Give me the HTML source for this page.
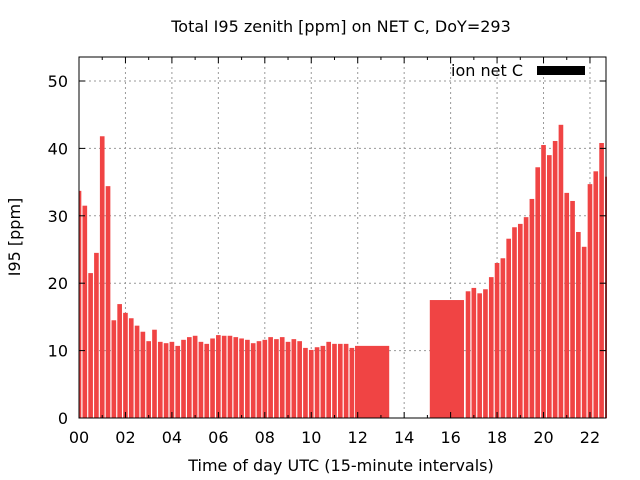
<!DOCTYPE html>
<html><head><meta charset="utf-8"><style>
html,body{margin:0;padding:0;background:#fff}
svg{display:block;font-family:"DejaVu Sans","Liberation Sans",sans-serif}
</style></head><body>
<svg id="c" width="640" height="480" viewBox="0 0 640 480">
<text x="341" y="32" font-size="16" text-anchor="middle">Total I95 zenith [ppm] on NET C, DoY=293</text>
<text x="341" y="471" font-size="16" text-anchor="middle">Time of day UTC (15-minute intervals)</text>
<text transform="translate(20,237) rotate(-90)" font-size="16" text-anchor="middle">I95 [ppm]</text>
<g id="grid"></g>
<g id="bars"></g>
<g id="axes"></g>
<g>
<text x="523" y="76" font-size="16" text-anchor="end">ion net C</text>
<rect x="537" y="66" width="48" height="9" fill="#000"/>
</g>
</svg>
<script>
const times=[0,0.25,0.5,0.75,1,1.25,1.5,1.75,2,2.25,2.5,2.75,3,3.25,3.5,3.75,4,4.25,4.5,4.75,5,5.25,5.5,5.75,6,6.25,6.5,6.75,7,7.25,7.5,7.75,8,8.25,8.5,8.75,9,9.25,9.5,9.75,10,10.25,10.5,10.75,11,11.25,11.5,11.75,12.62,15.84,16.75,17,17.25,17.5,17.75,18,18.25,18.5,18.75,19,19.25,19.5,19.75,20,20.25,20.5,20.75,21,21.25,21.5,21.75,22,22.25,22.5,22.75];
const values=[33.7,31.5,21.5,24.5,41.8,34.4,14.5,16.9,15.6,14.8,13.7,12.8,11.4,13.1,11.3,11.1,11.3,10.7,11.6,12.0,12.2,11.3,11.0,11.8,12.3,12.2,12.2,12.0,11.8,11.6,11.1,11.4,11.6,12.0,11.7,12.0,11.3,11.7,11.4,10.4,10.1,10.5,10.7,11.3,11.0,11.0,11.0,10.4,10.7,17.5,18.8,19.3,18.5,19.1,20.9,23.0,23.7,26.6,28.3,28.8,29.8,32.5,37.2,40.5,39.0,41.1,43.5,33.4,32.2,27.6,25.4,34.7,36.6,40.8,35.8];
const durations=times.map((t,i)=>(i===48||i===49)?1.84:0.25);
const xTicks=[0,2,4,6,8,10,12,14,16,18,20,22];
const xTickLabels=["00","02","04","06","08","10","12","14","16","18","20","22"];
const yTicks=[0,10,20,30,40,50];
const L=79,R=606,T=57,B=418,XMAX=22.69,YMAX=53.56;
const X=v=>L+v/XMAX*(R-L);
const Y=v=>B-v/YMAX*(B-T);
const NS="http://www.w3.org/2000/svg";
function mk(tag,attrs,parent){const e=document.createElementNS(NS,tag);for(const k in attrs)e.setAttribute(k,attrs[k]);parent.appendChild(e);return e;}
const grid=document.getElementById('grid'),bars=document.getElementById('bars'),axes=document.getElementById('axes');
mk('clipPath',{id:'pc'},bars);
mk('rect',{x:L,y:T,width:R-L+1,height:B-T},bars.lastChild);
yTicks.forEach(v=>{
  if(v>0&&v<YMAX){const g=mk('line',{x1:L,x2:R,y1:Y(v),y2:Y(v),stroke:'#999','stroke-dasharray':'2,3'},grid);
  
  }
  const t=mk('text',{x:68,y:Y(v)+6,'font-size':16,'text-anchor':'end'},axes);t.textContent=v;
  
  
  mk('line',{x1:L,x2:L+6,y1:Y(v),y2:Y(v),stroke:'#000'},axes);
  mk('line',{x1:R,x2:R-6,y1:Y(v),y2:Y(v),stroke:'#000'},axes);
});
xTicks.forEach((v,i)=>{
  if(v>0){const g=mk('line',{x1:X(v),x2:X(v),y1:T,y2:B,stroke:'#999','stroke-dasharray':'2,3'},grid);
  
  }
  const t=mk('text',{x:X(v),y:443,'font-size':16,'text-anchor':'middle'},axes);t.textContent=xTickLabels[i];
  
  
  mk('line',{x1:X(v),x2:X(v),y1:B,y2:B-6,stroke:'#000'},axes);
  mk('line',{x1:X(v),x2:X(v),y1:T,y2:T+6,stroke:'#000'},axes);
  if(v+1<XMAX){mk('line',{x1:X(v+1),x2:X(v+1),y1:B,y2:B-3,stroke:'#000'},axes);
  mk('line',{x1:X(v+1),x2:X(v+1),y1:T,y2:T+3,stroke:'#000'},axes);}
});
const bg=mk('g',{'clip-path':'url(#pc)'},bars);
times.forEach((t,i)=>{
  const w=durations[i]===0.25?0.2:durations[i]*0.8;
  const r=mk('rect',{x:X(t-w/2),y:Y(values[i]),width:X(w)-L,height:B-Y(values[i]),fill:'#f04444'},bg);
  
  
});
mk('rect',{x:L,y:T,width:R-L,height:B-T,fill:'none',stroke:'#000','stroke-width':1},axes);
</script>
</body></html>
